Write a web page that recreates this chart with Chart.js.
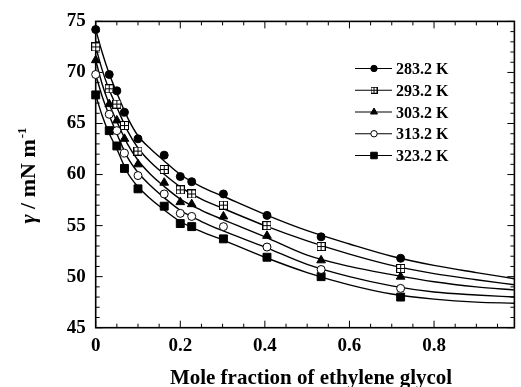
<!DOCTYPE html>
<html><head><meta charset="utf-8">
<script src="https://cdn.jsdelivr.net/npm/chart.js@4/dist/chart.umd.min.js"></script>
<style>html,body{margin:0;padding:0;background:#fff}canvas{display:block}</style>
</head><body>
<canvas id="c" width="521" height="387"></canvas>
<script>
const xMole = [0, 0.032, 0.05, 0.068, 0.1, 0.162, 0.2, 0.227, 0.302, 0.405, 0.533, 0.721];
const seriesLabels = ['283.2 K', '293.2 K', '303.2 K', '313.2 K', '323.2 K'];
const gamma283 = [74.2, 69.8, 68.2, 66.1, 63.5, 61.9, 59.8, 59.3, 58.1, 56.0, 53.9, 51.8];
const gamma293 = [72.5, 68.4, 66.9, 64.8, 62.3, 60.5, 58.5, 58.1, 57.0, 55.0, 52.95, 50.8];
const gamma303 = [71.2, 66.9, 65.3, 63.5, 61.0, 59.2, 57.3, 57.1, 55.9, 54.0, 51.6, 50.0];
const gamma313 = [69.8, 65.9, 64.3, 62.1, 59.9, 58.1, 56.2, 55.9, 54.9, 52.9, 50.7, 48.85];
const gamma323 = [67.8, 64.3, 62.8, 60.6, 58.6, 56.9, 55.2, 54.9, 53.7, 51.9, 50.0, 48.0];

// ---- fitted curves ----
const xFit = [0, 0.015, 0.03, 0.05, 0.075, 0.1, 0.13, 0.16, 0.2, 0.25, 0.3, 0.4, 0.5, 0.6, 0.7, 0.8, 0.9, 0.99];
const fit283 = [74.2, 72.0, 70.1, 68.0, 65.6, 63.8, 62.5, 61.4, 60.0, 58.8, 57.9, 56.1, 54.5, 53.2, 52.0, 51.1, 50.4, 49.8];
const fit293 = [72.5, 70.3, 68.5, 66.6, 64.3, 62.6, 61.2, 60.1, 58.8, 57.6, 56.7, 55.0, 53.5, 52.2, 51.1, 50.3, 49.7, 49.2];
const fit303 = [71.2, 68.9, 67.1, 65.2, 63.0, 61.4, 60.0, 58.9, 57.6, 56.5, 55.6, 53.9, 52.1, 51.0, 50.2, 49.5, 49.0, 48.7];
const fit313 = [69.8, 67.7, 66.0, 64.0, 61.7, 60.2, 58.9, 57.8, 56.5, 55.4, 54.5, 52.9, 51.2, 50.0, 49.1, 48.5, 48.2, 48.0];
const fit323 = [67.8, 65.8, 64.2, 62.5, 60.2, 58.8, 57.6, 56.6, 55.4, 54.4, 53.6, 51.9, 50.4, 49.2, 48.3, 47.8, 47.5, 47.4];

const xTicks = [0, 0.2, 0.4, 0.6, 0.8];
const yTicks = [45, 50, 55, 60, 65, 70, 75];
const xMax = 0.99;
const xTitle = 'Mole fraction of ethylene glycol';

// ---- marker: open square with cross ----
function squareCross(size) {
  const cv = document.createElement('canvas');
  cv.width = size; cv.height = size;
  const c = cv.getContext('2d');
  c.fillStyle = '#fff'; c.fillRect(0, 0, size, size);
  c.strokeStyle = '#000'; c.lineWidth = 1;
  c.strokeRect(0.5, 0.5, size - 1, size - 1);
  const m = Math.floor(size / 2) + 0.5;
  c.beginPath(); c.moveTo(m, 0.5); c.lineTo(m, size - 0.5);
  c.moveTo(0.5, m); c.lineTo(size - 0.5, m); c.stroke();
  return cv;
}
const sqCross = squareCross(9);
const sqCrossSmall = squareCross(7);

const allGamma = [gamma283, gamma293, gamma303, gamma313, gamma323];
const allFit = [fit283, fit293, fit303, fit313, fit323];
const styles = [
  {ps: 'circle', r: 4, fill: '#000', lps: 'circle', lr: 3.2},
  {ps: sqCross, r: 4.5, fill: '#fff', lps: sqCrossSmall, lr: 3.5},
  {ps: 'triangle', r: 5, fill: '#000', lps: 'triangle', lr: 4},
  {ps: 'circle', r: 4, fill: '#fff', lps: 'circle', lr: 3.2},
  {ps: 'rect', r: 5.6, fill: '#000', lps: 'rect', lr: 4.6}
];

const markerSets = allGamma.map((g, i) => ({
  label: seriesLabels[i],
  data: xMole.map((x, k) => ({x: x, y: g[k]})),
  showLine: false,
  pointStyle: styles[i].ps,
  pointRadius: styles[i].r,
  pointHoverRadius: styles[i].r,
  pointBackgroundColor: styles[i].fill,
  pointBorderColor: '#000',
  pointBorderWidth: 1,
  clip: false
}));
const curveSets = allFit.map((f, i) => ({
  label: seriesLabels[i] + ' fit',
  data: xFit.map((x, k) => ({x: x, y: f[k]})),
  showLine: true,
  borderColor: '#000',
  borderWidth: 1.4,
  pointRadius: 0,
  pointHoverRadius: 0,
  cubicInterpolationMode: 'monotone',
  fill: false,
  clip: false
}));

const SERIF = "'Liberation Serif', 'Times New Roman', serif";

const decor = {
  id: 'decor',
  beforeDatasetsDraw(chart) {
    const {ctx, chartArea: a, scales: {x, y}} = chart;
    ctx.save();
    ctx.strokeStyle = '#000';
    ctx.lineWidth = 1;
    ctx.beginPath();
    for (let i = 0; i <= 40; i++) {
      const v = i * 0.05;
      if (v > x.max + 1e-9) break;
      const px = x.getPixelForValue(v);
      const L = (i % 4 === 0) ? 7 : 4;
      ctx.moveTo(px, a.bottom); ctx.lineTo(px, a.bottom - L);
      ctx.moveTo(px, a.top); ctx.lineTo(px, a.top + L);
    }
    for (let v = y.min; v <= y.max; v++) {
      const py = y.getPixelForValue(v);
      const L = (v % 5 === 0) ? 7 : 4;
      ctx.moveTo(a.left, py); ctx.lineTo(a.left + L, py);
      ctx.moveTo(a.right, py); ctx.lineTo(a.right - L, py);
    }
    ctx.stroke();
    ctx.lineWidth = 1.6;
    ctx.strokeRect(a.left, a.top, a.right - a.left, a.bottom - a.top);
    ctx.restore();
  },
  afterDraw(chart) {
    const {ctx} = chart;
    ctx.save();
    ctx.fillStyle = '#000';
    // x title
    ctx.font = 'bold 21px ' + SERIF;
    ctx.textAlign = 'center';
    ctx.textBaseline = 'alphabetic';
    ctx.fillText(xTitle, 311, 383.5);
    // y title (rotated): γ / mN m^-1
    ctx.translate(35, 175.5);
    ctx.rotate(-Math.PI / 2);
    ctx.textAlign = 'left';
    const f1 = 'italic bold 22px ' + SERIF, f2 = 'bold 22px ' + SERIF, f3 = 'bold 13px ' + SERIF;
    ctx.font = f1; const w1 = ctx.measureText('γ').width;
    ctx.font = f2; const w2 = ctx.measureText(' / mN m').width;
    ctx.font = f3; const w3 = ctx.measureText('-1').width;
    let sx = -(w1 + w2 + w3 + 1) / 2;
    ctx.font = f1; ctx.fillText('γ', sx, 0); sx += w1;
    ctx.font = f2; ctx.fillText(' / mN m', sx, 0); sx += w2 + 1;
    ctx.font = f3; ctx.fillText('-1', sx, -9);
    ctx.restore();

    // legend
    ctx.save();
    ctx.font = 'bold 16px ' + SERIF;
    ctx.textAlign = 'left';
    ctx.textBaseline = 'middle';
    seriesLabels.forEach((lab, i) => {
      const yy = 68.5 + i * 21.75;
      ctx.strokeStyle = '#000';
      ctx.lineWidth = 1.2;
      ctx.beginPath(); ctx.moveTo(355, yy); ctx.lineTo(392, yy); ctx.stroke();
      ctx.fillStyle = styles[i].fill;
      ctx.lineWidth = 1;
      Chart.helpers.drawPoint(ctx, {pointStyle: styles[i].lps, radius: styles[i].lr, rotation: 0, borderWidth: 1}, 374, yy);
      ctx.fillStyle = '#000';
      ctx.fillText(lab, 396, yy + 1.5);
    });
    ctx.restore();
  }
};

new Chart(document.getElementById('c'), {
  type: 'scatter',
  data: {datasets: markerSets.concat(curveSets)},
  options: {
    responsive: false,
    animation: false,
    devicePixelRatio: 1,
    layout: {padding: {left: 0, right: 1, top: 20, bottom: 0}},
    plugins: {legend: {display: false}, tooltip: {enabled: false}},
    scales: {
      x: {
        type: 'linear', min: 0, max: xMax,
        afterBuildTicks: s => { s.ticks = xTicks.map(v => ({value: v})); },
        afterFit: s => { s.height = 59.3; },
        grid: {display: false, drawTicks: false},
        border: {display: false},
        ticks: {color: '#000', padding: 7, maxRotation: 0, font: {family: SERIF, weight: 'bold', size: 19}, callback: v => String(v)}
      },
      y: {
        type: 'linear', min: 45, max: 75,
        afterBuildTicks: s => { s.ticks = yTicks.map(v => ({value: v})); },
        afterFit: s => { s.width = 95.7; },
        grid: {display: false, drawTicks: false},
        border: {display: false},
        ticks: {color: '#000', padding: 10, font: {family: SERIF, weight: 'bold', size: 19}, callback: v => String(v)}
      }
    }
  },
  plugins: [decor]
});
</script>
</body></html>
